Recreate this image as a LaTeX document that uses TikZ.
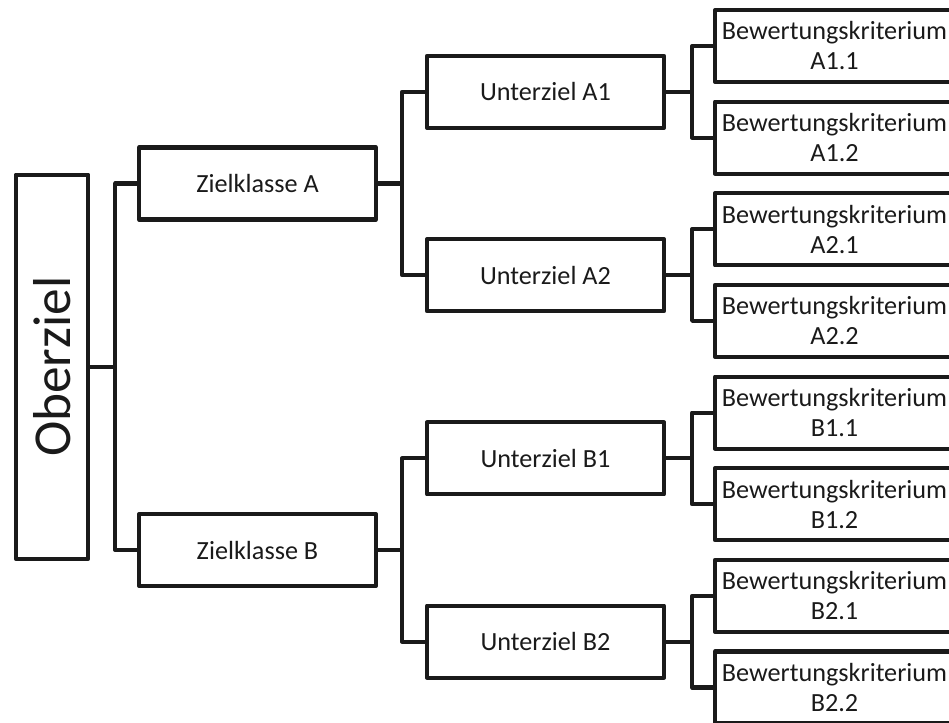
\documentclass[tikz,border=0pt]{standalone}
\usepackage{fontspec}
\setmainfont{Carlito}
\definecolor{ink}{RGB}{26,26,26}
\begin{document}
\begin{tikzpicture}[x=0.75pt,y=-0.75pt,
  line width=3pt, line join=round,
  conn/.style={draw=ink, line width=3.1pt, line join=round},
  box/.style={draw=ink, line width=3.1pt, rectangle, inner sep=0pt, text=ink,
    minimum height=54pt, align=center,
    font=\fontsize{19.65}{22.5}\selectfont},
  goalbox/.style={box, minimum width=177.75pt},
  critbox/.style={box, minimum width=179.25pt},
  topbox/.style={box, rotate=90, minimum width=288pt, minimum height=54.4pt,
    font=\fontsize{40}{48}\selectfont}]
\useasboundingbox (0,0) rectangle (949,722);
\clip (0,0) rectangle (949,722);

% top goal
\node[topbox] (ob) at (52,366.7) {Oberziel};

% goal classes
\node[goalbox] (zA) at (257.5,183.5) {Zielklasse A};
\node[goalbox] (zB) at (257.5,550) {Zielklasse B};

% sub goals
\node[goalbox] (uA1) at (545.5,91.8) {Unterziel A1};
\node[goalbox] (uA2) at (545.5,275.1) {Unterziel A2};
\node[goalbox] (uB1) at (545.5,458.4) {Unterziel B1};
\node[goalbox] (uB2) at (545.5,641.6) {Unterziel B2};

% criteria
\node[critbox] (kA11) at (834.5,46)    {Bewertungskriterium\\A1.1};
\node[critbox] (kA12) at (834.5,137.6) {Bewertungskriterium\\A1.2};
\node[critbox] (kA21) at (834.5,229.3) {Bewertungskriterium\\A2.1};
\node[critbox] (kA22) at (834.5,320.9) {Bewertungskriterium\\A2.2};
\node[critbox] (kB11) at (834.5,412.6) {Bewertungskriterium\\B1.1};
\node[critbox] (kB12) at (834.5,504.2) {Bewertungskriterium\\B1.2};
\node[critbox] (kB21) at (834.5,595.8) {Bewertungskriterium\\B2.1};
\node[critbox] (kB22) at (834.5,687.5) {Bewertungskriterium\\B2.2};

% bus points
\coordinate (b0)  at ([xshift=18.75pt]ob.south);
\coordinate (bA)  at ([xshift=18pt]zA.east);
\coordinate (bB)  at ([xshift=18pt]zB.east);
\coordinate (bA1) at ([xshift=19.5pt]uA1.east);
\coordinate (bA2) at ([xshift=19.5pt]uA2.east);
\coordinate (bB1) at ([xshift=19.5pt]uB1.east);
\coordinate (bB2) at ([xshift=19.5pt]uB2.east);

% connectors
\draw[conn] (ob.south) -- (b0);
\draw[conn] (zA.west) -| (b0) |- (zB.west);

\draw[conn] (zA.east) -- (bA);
\draw[conn] (uA1.west) -| (bA) |- (uA2.west);
\draw[conn] (zB.east) -- (bB);
\draw[conn] (uB1.west) -| (bB) |- (uB2.west);

\draw[conn] (uA1.east) -- (bA1);
\draw[conn] (kA11.west) -| (bA1) |- (kA12.west);
\draw[conn] (uA2.east) -- (bA2);
\draw[conn] (kA21.west) -| (bA2) |- (kA22.west);
\draw[conn] (uB1.east) -- (bB1);
\draw[conn] (kB11.west) -| (bB1) |- (kB12.west);
\draw[conn] (uB2.east) -- (bB2);
\draw[conn] (kB21.west) -| (bB2) |- (kB22.west);
\end{tikzpicture}
\end{document}
